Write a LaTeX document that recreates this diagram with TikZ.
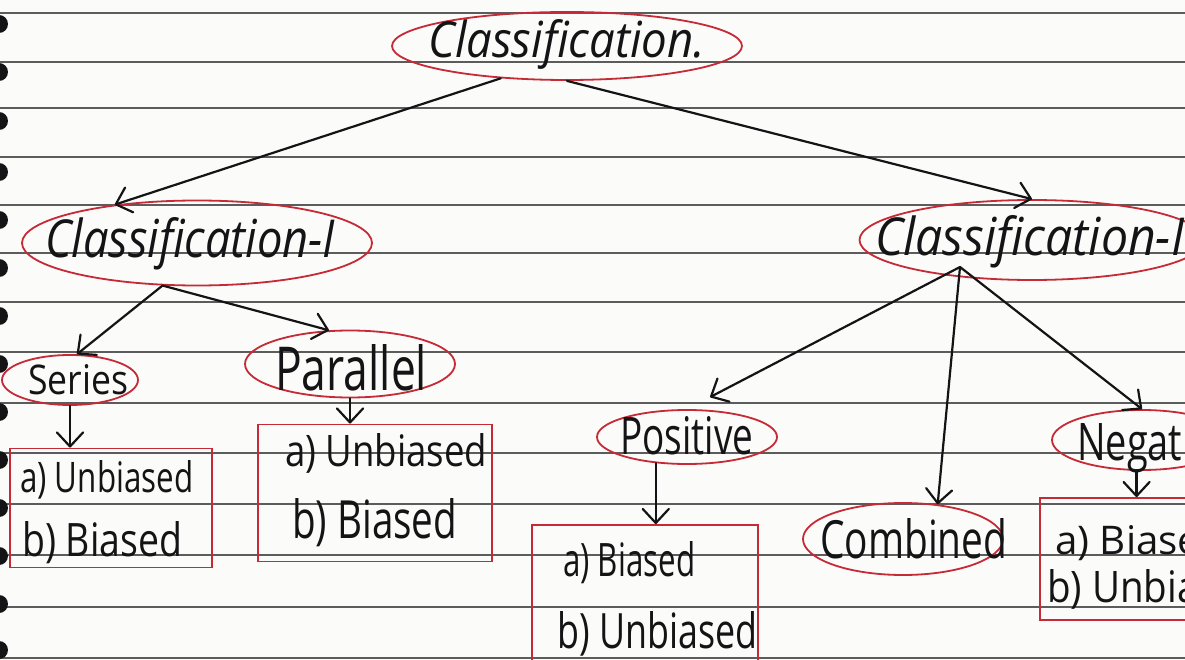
\documentclass[tikz,border=0pt]{standalone}
\usepackage{fontspec}
\setmainfont{Open Sans}
\usetikzlibrary{shapes.geometric,arrows.meta}
\definecolor{inkred}{RGB}{198,42,54}
\definecolor{ink}{RGB}{20,20,22}
\definecolor{ruling}{RGB}{92,92,92}
\definecolor{paper}{RGB}{251,251,249}
% stretch a handwritten-looking word to a given width and height
\newcommand{\hw}[3]{\resizebox{#1}{#2}{#3}}

\begin{document}
\begin{tikzpicture}[x=1pt,y=-1pt,
  oval/.style={draw=inkred, line width=1.8pt, ellipse, inner sep=0pt},
  listbox/.style={draw=inkred, line width=1.8pt, rectangle, inner sep=0pt},
  word/.style={text=ink, inner sep=0pt, anchor=base west},
  ruleline/.style={draw=ruling, line width=1.4pt},
  arr/.style={draw=ink, line width=2.2pt, line cap=round,
    -{Straight Barb[length=14pt,width=26pt,round]}},
]
\useasboundingbox (0,0) rectangle (1185,660);
\clip (0,0) rectangle (1185,660);
\fill[paper] (0,0) rectangle (1185,660);

% notebook ruling and binder holes
\foreach \y in {13,62,108,157,205,253,302,352,403,453,504,555,607,658}
  \draw[ruleline] (0,\y) -- (1185,\y);
\foreach \y in {24,72,121,172,220,268,316,364,412,460,508,556,604,650}
  \fill[ink] (-1,\y) circle (9);

% root
\node[oval, minimum width=350pt, minimum height=68pt] (top) at (567,46) {};
\node[word] (topT) at (428,58) {\hw{277pt}{38pt}{\itshape Classification.}};

% level one
\node[oval, minimum width=350pt, minimum height=85pt] (c1) at (197,243) {};
\node[word] (c1T) at (45,258) {\hw{290pt}{40pt}{\itshape Classification-I}};
\node[oval, minimum width=345pt, minimum height=80pt] (c2) at (1032,240) {};
\node[word] (c2T) at (875,256) {\hw{322pt}{40pt}{\itshape Classification-II}};

% Classification-I branch
\node[oval, minimum width=136pt, minimum height=50pt] (ser) at (70,380) {};
\node[word] (serT) at (28,394) {\hw{100pt}{30pt}{Series}};
\node[oval, minimum width=210pt, minimum height=67pt] (par) at (350,364) {};
\node[word] (parT) at (275,390) {\hw{152pt}{46pt}{Parallel}};

\node[listbox, minimum width=202pt, minimum height=119pt] (sbox) at (111,508) {};
\node[word] (s1) at (20,492) {\hw{173pt}{32pt}{a) Unbiased}};
\node[word] (s2) at (22,556) {\hw{160pt}{35pt}{b) Biased}};

\node[listbox, minimum width=234pt, minimum height=137pt] (pbox) at (375,493) {};
\node[word] (p1) at (285,466) {\hw{202pt}{33pt}{a) Unbiased}};
\node[word] (p2) at (292,538) {\hw{165pt}{40pt}{b) Biased}};

% Classification-II branch
\node[oval, minimum width=180pt, minimum height=54pt] (pos) at (687,437) {};
\node[word] (posT) at (620,454) {\hw{133pt}{38pt}{Positive}};
\node[oval, minimum width=200pt, minimum height=72pt] (comb) at (903,539) {};
\node[word] (combT) at (820,558) {\hw{187pt}{40pt}{Combined}};
\node[oval, minimum width=180pt, minimum height=60pt] (neg) at (1142,440) {};
\node[word] (negT) at (1077,460) {\hw{155pt}{38pt}{Negative}};

\node[listbox, minimum width=226pt, minimum height=150pt] (posbox) at (645,600) {};
\node[word] (q1) at (563,576) {\hw{132pt}{35pt}{a) Biased}};
\node[word] (q2) at (557,648) {\hw{200pt}{37pt}{b) Unbiased}};

\node[listbox, minimum width=200pt, minimum height=122pt] (nbox) at (1140,559) {};
\node[word] (n1) at (1055,554) {\hw{170pt}{30pt}{a) Biased}};
\node[word] (n2) at (1047,602) {\hw{215pt}{33pt}{b) Unbiased}};

% connectors
\draw[arr] (top.206) -- (c1.155);
\draw[arr] (top.south) -- (c2.north);

\draw[arr] (c1.231) -- (ser.75);
\draw[arr] (c1.231) -- (par.122);
\draw[arr] (ser.south) -- (ser.south |- sbox.north);
\draw[arr] (par.south) -- (par.south |- pbox.north);

\coordinate (hub2) at (960,267);
\draw[arr, shorten >=26pt] (hub2) -- (pos.north);
\draw[arr] (hub2) -- (comb.45);
\draw[arr] (hub2) -- (neg.north);
\draw[arr] (pos.220) -- (pos.220 |- posbox.north);
\draw[arr] (neg.260) -- (neg.260 |- nbox.north);
\end{tikzpicture}
\end{document}
